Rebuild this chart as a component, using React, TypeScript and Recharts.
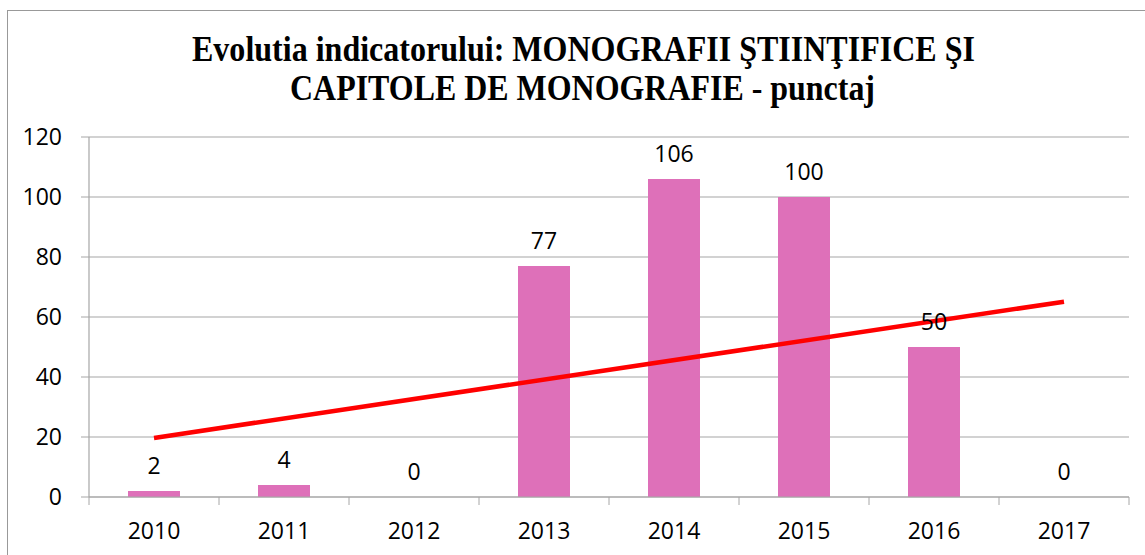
import React from "react";
import {
  ComposedChart,
  Bar,
  Line,
  XAxis,
  YAxis,
  CartesianGrid,
  LabelList,
} from "recharts";

/** Categories (years) on the X axis. */
const YEARS = ["2010", "2011", "2012", "2013", "2014", "2015", "2016", "2017"];

/** Score per year. */
const SCORES = [2, 4, 0, 77, 106, 100, 50, 0];

/** Linear trendline, read at its two visible end points. */
const TREND = [19.7, null, null, null, null, null, null, 65.1];

const Y_TICKS = [0, 20, 40, 60, 80, 100, 120];

const BAR_COLOR = "#DE70B9";
const TREND_COLOR = "#FF0000";
const AXIS_COLOR = "#A6A6A6";
const FONT = "'Open Sans', sans-serif";

const PLOT_LEFT = 89;
const PLOT_RIGHT = 1129;

const chartData = YEARS.map((year, i) => ({
  year,
  score: SCORES[i],
  trend: TREND[i],
}));

/** Category tick: label under the centre, tick marks on the category edges. */
function YearTick(props: any) {
  const { x, y, payload, index } = props;
  const half = (PLOT_RIGHT - PLOT_LEFT) / YEARS.length / 2;
  return (
    <g>
      <line x1={x - half} x2={x - half} y1={y - 8} y2={y} stroke={AXIS_COLOR} />
      {index === YEARS.length - 1 && (
        <line x1={x + half} x2={x + half} y1={y - 8} y2={y} stroke={AXIS_COLOR} />
      )}
      <text
        x={x}
        y={y + 34}
        textAnchor="middle"
        fontFamily={FONT}
        fontSize={23}
        fill="#000"
      >
        {payload.value}
      </text>
    </g>
  );
}

export default function App() {
  return (
    <div
      style={{
        position: "absolute",
        left: 0,
        top: 0,
        width: 1145,
        height: 555,
        background: "#fff",
        overflow: "hidden",
      }}
    >
      <div
        style={{
          position: "absolute",
          left: 7,
          top: 10,
          width: 1160,
          height: 570,
          border: "1.5px solid #999",
        }}
      />
      <svg
        width={1145}
        height={120}
        style={{ position: "absolute", left: 0, top: 0 }}
      >
        <text
          x={192}
          y={61}
          textLength={783}
          lengthAdjust="spacingAndGlyphs"
          fontFamily="'Liberation Serif', serif"
          fontWeight="bold"
          fontSize={35}
          fill="#000"
        >
          Evolutia indicatorului: MONOGRAFII ŞTIINŢIFICE ŞI
        </text>
        <text
          x={290}
          y={100}
          textLength={585}
          lengthAdjust="spacingAndGlyphs"
          fontFamily="'Liberation Serif', serif"
          fontWeight="bold"
          fontSize={35}
          fill="#000"
        >
          CAPITOLE DE MONOGRAFIE - punctaj
        </text>
      </svg>
      <div style={{ position: "absolute", left: 0, top: 0 }}>
        <ComposedChart
          width={1145}
          height={555}
          data={chartData}
          margin={{ top: 137, right: 1145 - PLOT_RIGHT, left: PLOT_LEFT - 60, bottom: 18 }}
          barCategoryGap={0}
        >
          <CartesianGrid
            vertical={false}
            stroke={AXIS_COLOR}
            strokeWidth={1.2}
          />
          <XAxis
            dataKey="year"
            height={40}
            axisLine={{ stroke: AXIS_COLOR, strokeWidth: 1.2 }}
            tickLine={false}
            tick={<YearTick />}
            interval={0}
          />
          <YAxis
            width={60}
            domain={[0, 120]}
            ticks={Y_TICKS}
            interval={0}
            axisLine={{ stroke: AXIS_COLOR, strokeWidth: 1.2 }}
            tickLine={{ stroke: AXIS_COLOR }}
            tickSize={8}
            tick={{ fill: "#000", fontSize: 23, fontFamily: FONT }}
            tickMargin={19}
          />
          <Bar
            dataKey="score"
            fill={BAR_COLOR}
            barSize={52}
            isAnimationActive={false}
          />
          {/* invisible series carrying the value labels, so zeros are labelled too */}
          <Line
            dataKey="score"
            stroke="none"
            dot={false}
            activeDot={false}
            legendType="none"
            isAnimationActive={false}
          >
            <LabelList
              dataKey="score"
              position="top"
              offset={17}
              fill="#000"
              fontSize={23}
              fontFamily={FONT}
            />
          </Line>
          <Line
            dataKey="trend"
            stroke={TREND_COLOR}
            strokeWidth={4.5}
            dot={false}
            connectNulls
            isAnimationActive={false}
          />
        </ComposedChart>
      </div>
    </div>
  );
}
